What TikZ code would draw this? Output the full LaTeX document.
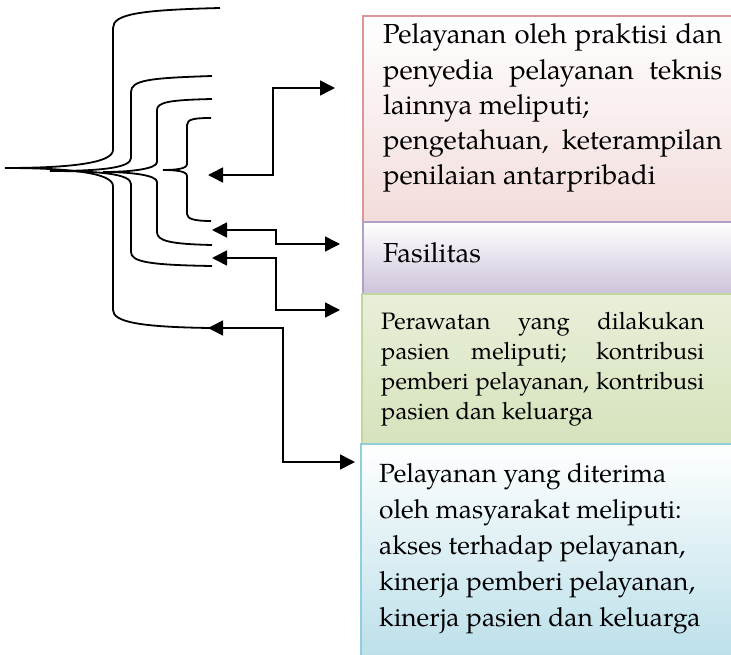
\documentclass[tikz,border=0pt]{standalone}
\usepackage{fontspec}
\setmainfont{TeX Gyre Pagella}
\usetikzlibrary{arrows.meta}

\definecolor{roseline}{HTML}{D99694}
\definecolor{rosefill}{HTML}{F2DCDB}
\definecolor{lilacline}{HTML}{B2A1C7}
\definecolor{lilacfill}{HTML}{CDC3DB}
\definecolor{oliveline}{HTML}{C3D69B}
\definecolor{olivetop}{HTML}{E8EFD9}
\definecolor{olivefill}{HTML}{D6E3BC}
\definecolor{aqualine}{HTML}{92CDDC}
\definecolor{aquafill}{HTML}{B6DDE8}

\tikzset{
  brc/.style={line width=1.8pt},
  conn/.style={line width=1.6pt,
    {Triangle[length=15pt,width=15pt]}-{Triangle[length=15pt,width=15pt]}},
  panel/.style={line width=2pt, rectangle, inner sep=0pt,
    minimum width=390pt, anchor=north west},
  % anchor on the baseline of the last line of each text
  txt/.style={inner sep=0pt, anchor=base west, align=left},
  bigtxt/.style={txt, font=\fontsize{27.5}{35.25}\selectfont},
  midtxt/.style={txt, font=\fontsize{23.8}{30}\selectfont},
  boxtxt/.style={txt, font=\fontsize{26.3}{36}\selectfont},
}

\begin{document}
\begin{tikzpicture}[x=1pt,y=-1pt]
\useasboundingbox (0,0) rectangle (731,655);
\clip (0,0) rectangle (731,655);

% nested braces opening to the right
\draw[brc] (220,8) .. controls (140,10) and (113,14) .. (113,28) -- (113,150)
  .. controls (113,163) and (70,168) .. (5,168)
  .. controls (70,168) and (113,173) .. (113,186) -- (113,310)
  .. controls (113,322) and (140,327) .. (210,328);
\draw[brc] (212,76) .. controls (150,78) and (131,80) .. (131,92) -- (131,158)
  .. controls (131,168) and (100,171) .. (50,171)
  .. controls (100,171) and (131,174) .. (131,184) -- (131,252)
  .. controls (131,262) and (150,265) .. (212,266);
\draw[brc] (212,99) .. controls (170,100) and (157,102) .. (157,110) -- (157,162)
  .. controls (157,169) and (130,172) .. (103,172)
  .. controls (130,172) and (157,175) .. (157,182) -- (157,232)
  .. controls (157,241) and (170,244) .. (212,245);
\draw[brc] (211,118) .. controls (195,118) and (187,119) .. (187,125) -- (187,164)
  .. controls (187,169) and (175,170) .. (163,170)
  .. controls (175,170) and (187,171) .. (187,176) -- (187,214)
  .. controls (187,219) and (195,221) .. (211,221);

% panels
\node[panel, draw=roseline, top color=white, bottom color=rosefill,
  minimum height=206pt] (box1) at (362,15) {};
\node[panel, draw=lilacline, top color=white, bottom color=lilacfill,
  minimum height=72pt] (box2) at (362,221) {};
\node[panel, draw=oliveline, top color=olivetop, bottom color=olivefill,
  minimum height=150pt] (box3) at (361,293) {};
\node[panel, draw=aqualine, top color=white, bottom color=aquafill,
  minimum height=230pt] (box4) at (360,443) {};

% panel texts
\node[bigtxt] (t1) at (383,185) {%
  \makebox[339pt][s]{Pelayanan oleh praktisi dan}\\
  \makebox[339pt][s]{penyedia pelayanan teknis}\\
  lainnya meliputi;\\
  \makebox[339pt][s]{pengetahuan, keterampilan}\\
  penilaian antarpribadi};
\node[bigtxt] (t2) at (383,262) {Fasilitas};
\node[midtxt] (t3) at (381,419) {%
  \makebox[323pt][s]{Perawatan yang dilakukan}\\
  \makebox[323pt][s]{pasien meliputi; kontribusi}\\
  \makebox[323pt][s]{pemberi pelayanan, kontribusi}\\
  pasien dan keluarga};
\node[boxtxt] (t4) at (379,626) {%
  Pelayanan yang diterima\\
  oleh masyarakat meliputi:\\
  akses terhadap pelayanan,\\
  kinerja pemberi pelayanan,\\
  kinerja pasien dan keluarga};

% connector end points
\coordinate (a1l) at (208,175);
\coordinate (a1r) at (335,88);
\coordinate (a2l) at (212,230);
\coordinate (a2r) at (340,244);
\coordinate (a3l) at (212,258);
\coordinate (a3r) at (340,310);
\coordinate (a4l) at (208,328);
\coordinate (a4r) at (355,462);

% connectors
\draw[conn] (a1l) -- ++(65,0) |- (a1r);
\draw[conn] (a2l) -- ++(64,0) |- (a2r);
\draw[conn] (a3l) -- ++(64,0) |- (a3r);
\draw[conn] (a4l) -- ++(75,0) |- (a4r);
\end{tikzpicture}
\end{document}
